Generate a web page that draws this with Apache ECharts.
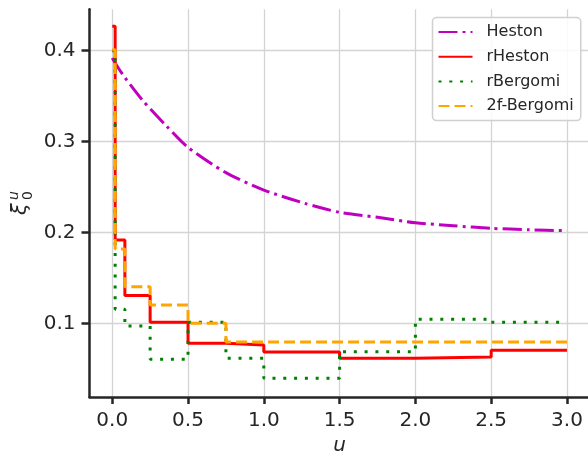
<!DOCTYPE html>
<html>
<head>
<meta charset="utf-8">
<script src="https://cdn.jsdelivr.net/npm/echarts@6/dist/echarts.min.js"></script>
<style>
  html, body { margin: 0; padding: 0; background: #ffffff; }
  #chart { width: 588px; height: 455px; }
</style>
</head>
<body>
<div id="chart"></div>
<script>
// Forward variance curves xi_0^u for four models
const seriesNames = ['Heston', 'rHeston', 'rBergomi', '2f-Bergomi'];

// Maturity knots of the piecewise-constant curves (u in years)
const knots = [0, 1 / 52, 1 / 12, 0.25, 0.5, 0.75, 1.0, 1.5, 2.0, 2.5, 3.0];

// Value on each interval [knots[i], knots[i+1])
const rHestonLevels   = [0.427, 0.192, 0.131, 0.1015, 0.0785, 0.0766, 0.0689, 0.0620, 0.0634, 0.0708];
const rBergomiLevels  = [0.400, 0.116, 0.0975, 0.061, 0.1015, 0.062, 0.040, 0.0693, 0.1048, 0.1015];
const twoFactorLevels = [0.401, 0.182, 0.1407, 0.1205, 0.1004, 0.080, 0.080, 0.080, 0.080, 0.080];

// Smooth Heston forward variance curve (u, value)
const hestonU      = [0, 0.04, 0.083, 0.2, 0.358, 0.5, 0.75, 1.0, 1.27, 1.5, 1.75, 2.0, 2.25, 2.5, 2.75, 3.0];
const hestonValues = [0.392, 0.381, 0.3706, 0.3455, 0.3172, 0.2937, 0.266, 0.2469, 0.2323, 0.2224, 0.2169, 0.2110, 0.2077, 0.2048, 0.2033, 0.2022];

// Axis ticks
const xTicks = [0, 0.5, 1.0, 1.5, 2.0, 2.5, 3.0];
const yTicks = [0.1, 0.2, 0.3, 0.4];

const ink = '#262626';
const gridColor = '#d4d4d4';
const font = 'DejaVu Sans';

// Step series: each level holds until the next knot; repeat the last level at the final knot
function stepData(levels) {
  const pts = levels.map((v, i) => [knots[i], v]);
  pts.push([knots[knots.length - 1], levels[levels.length - 1]]);
  return pts;
}

const chart = echarts.init(document.getElementById('chart'), null, { renderer: 'canvas' });

chart.setOption({
  animation: false,
  backgroundColor: '#ffffff',
  textStyle: { fontFamily: font },
  grid: {
    left: 89.5,
    right: -1.7,
    top: 9.3,
    bottom: 58,
    outerBoundsMode: 'none',
    containLabel: false
  },
  xAxis: {
    type: 'value',
    min: -0.15,
    max: 3.15,
    name: 'u',
    nameLocation: 'middle',
    nameGap: 37,
    nameTextStyle: { fontFamily: font, fontStyle: 'italic', fontSize: 20, color: ink },
    axisLine: { show: true, onZero: false, lineStyle: { color: ink, width: 2.5 } },
    axisTick: { show: true, customValues: xTicks, length: 7, lineStyle: { color: ink, width: 2.5 } },
    axisLabel: {
      customValues: xTicks,
      formatter: v => v.toFixed(1),
      fontFamily: font, fontSize: 20, color: ink, margin: 14,
      showMinLabel: true, showMaxLabel: true, hideOverlap: false
    },
    splitLine: { show: true, customValues: xTicks, lineStyle: { color: gridColor, width: 1.3 } }
  },
  yAxis: {
    type: 'value',
    min: 0.0195,
    max: 0.4455,
    axisLine: { show: true, onZero: false, lineStyle: { color: ink, width: 2.5 } },
    axisTick: { show: true, customValues: yTicks, length: 8, lineStyle: { color: ink, width: 2.5 } },
    axisLabel: {
      customValues: yTicks,
      formatter: v => v.toFixed(1),
      fontFamily: font, fontSize: 20, color: ink, margin: 14,
      hideOverlap: false
    },
    splitLine: { show: true, customValues: yTicks, lineStyle: { color: gridColor, width: 1.3 } }
  },
  legend: {
    data: seriesNames,
    orient: 'vertical',
    left: 432.5,
    top: 17.5,
    padding: [6.5, 7, 6.5, 5],
    itemWidth: 34,
    itemHeight: 14,
    itemGap: 8.7,
    backgroundColor: 'rgba(255,255,255,0.85)',
    borderColor: '#d0d0d0',
    borderWidth: 1.5,
    borderRadius: 4,
    // line-only legend keys: hide the marker drawn on top of the line sample
    itemStyle: { opacity: 0, borderWidth: 0 },
    textStyle: { fontFamily: font, fontSize: 16, color: ink, lineHeight: 16, padding: [0, 0, 0, 9] }
  },
  graphic: [
    {
      // y-axis title: xi with subscript 0 and superscript u, read bottom to top
      type: 'group',
      x: 21,
      y: 215,
      rotation: Math.PI / 2,
      children: [
        { type: 'text', x: 0, y: 0,
          style: { text: 'ξ', fontFamily: font, fontStyle: 'italic', fontSize: 21, fill: ink, align: 'left', verticalAlign: 'middle' } },
        { type: 'text', x: 15, y: -7,
          style: { text: 'u', fontFamily: font, fontStyle: 'italic', fontSize: 14, fill: ink, align: 'left', verticalAlign: 'middle' } },
        { type: 'text', x: 15, y: 7,
          style: { text: '0', fontFamily: font, fontSize: 14, fill: ink, align: 'left', verticalAlign: 'middle' } }
      ]
    }
  ],
  series: [
    {
      name: 'Heston',
      type: 'line',
      data: hestonU.map((u, i) => [u, hestonValues[i]]),
      smooth: 0.25,
      showSymbol: false,
      symbol: 'none',
      color: '#bf00bf',
      lineStyle: { color: '#bf00bf', width: 3, type: [19, 5, 3, 5], cap: 'butt' },
      z: 2
    },
    {
      name: 'rHeston',
      type: 'line',
      step: 'end',
      data: stepData(rHestonLevels),
      showSymbol: false,
      symbol: 'none',
      color: '#ff0000',
      lineStyle: { color: '#ff0000', width: 3, type: 'solid' },
      z: 3
    },
    {
      name: 'rBergomi',
      type: 'line',
      step: 'end',
      data: stepData(rBergomiLevels),
      showSymbol: false,
      symbol: 'none',
      color: '#008000',
      lineStyle: { color: '#008000', width: 3, type: [3, 7.8], cap: 'butt' },
      z: 4
    },
    {
      name: '2f-Bergomi',
      type: 'line',
      step: 'end',
      data: stepData(twoFactorLevels),
      showSymbol: false,
      symbol: 'none',
      color: '#ffa500',
      lineStyle: { color: '#ffa500', width: 3, type: [11, 5], cap: 'butt' },
      z: 5
    }
  ]
});
</script>
</body>
</html>
